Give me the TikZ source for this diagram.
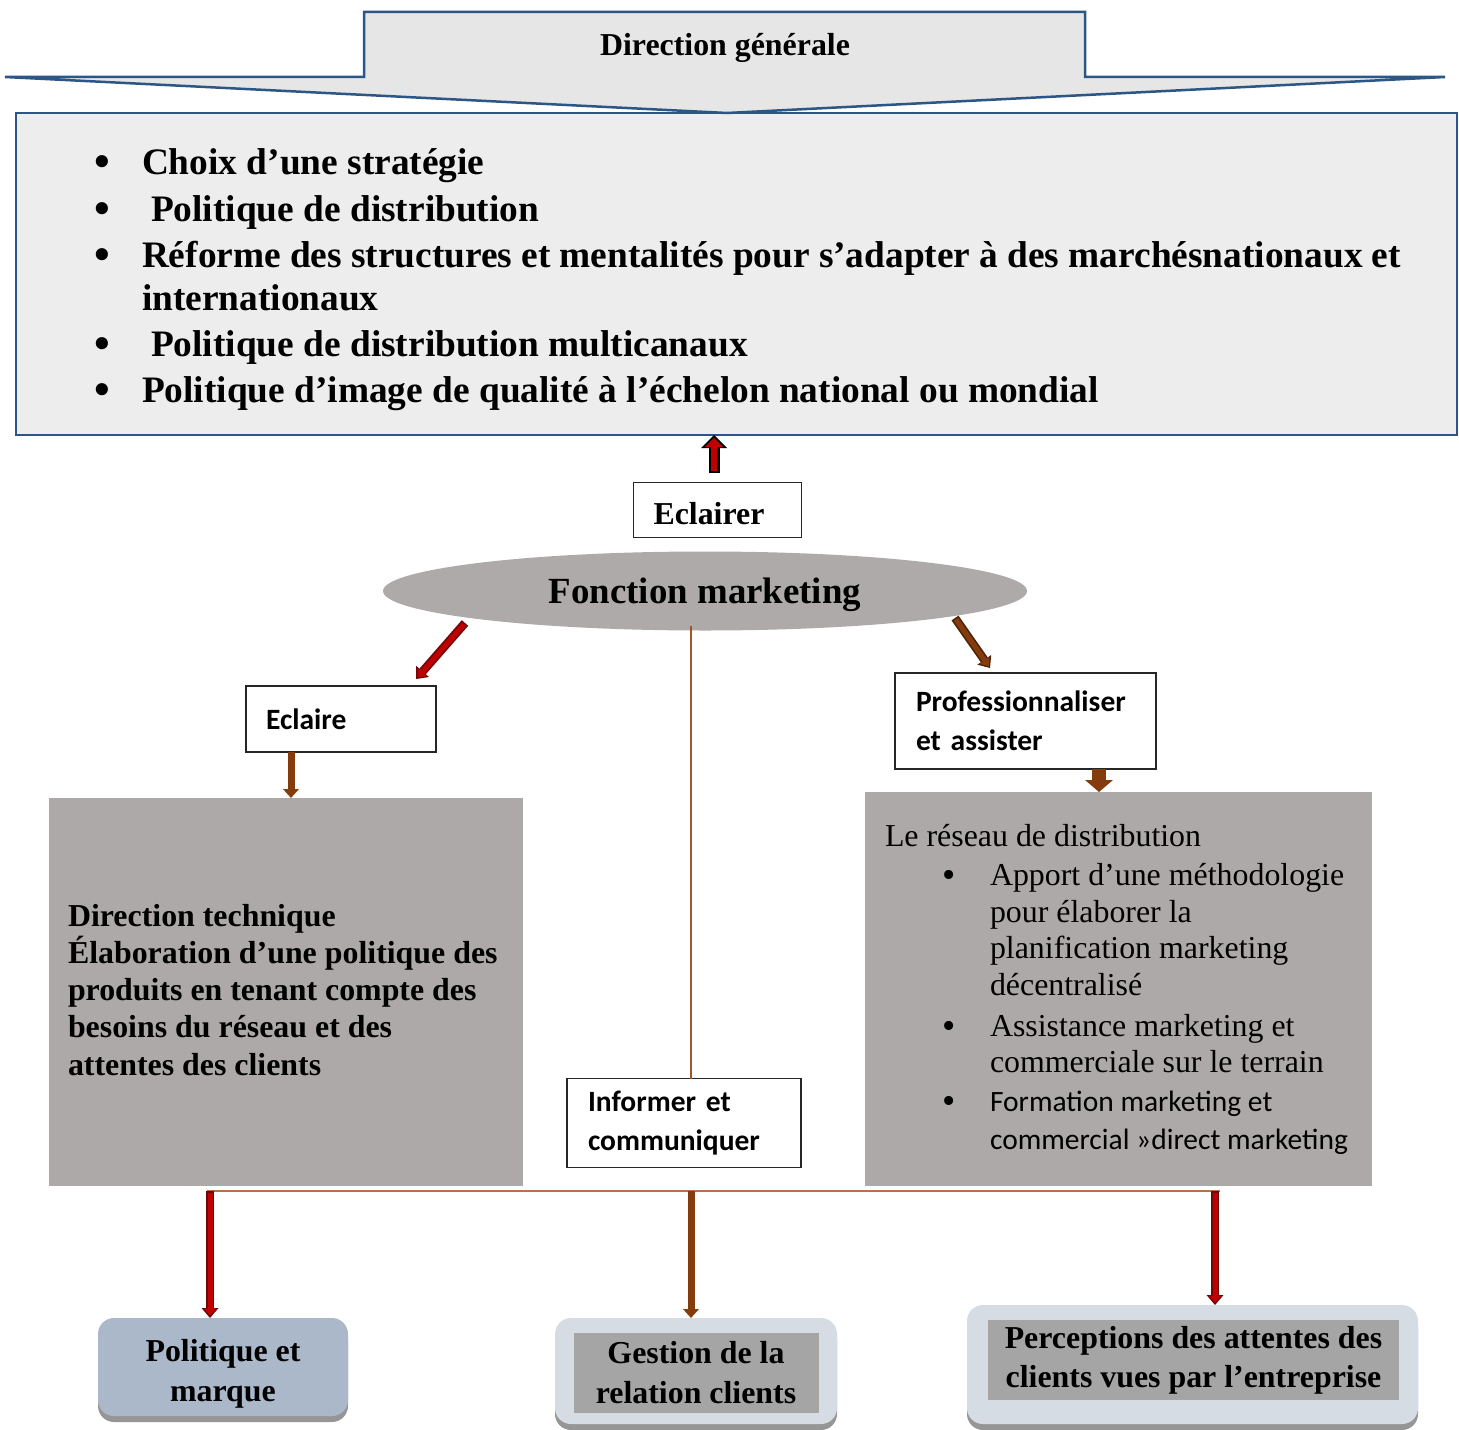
\documentclass[tikz,border=0pt]{standalone}
\usepackage{fontspec}
\setmainfont{Liberation Serif}
\newfontfamily\calibri{Carlito}
\usetikzlibrary{arrows.meta,shapes.geometric}

\definecolor{frameblue}{RGB}{44,86,134}
\definecolor{bannerfill}{RGB}{230,230,230}
\definecolor{panelfill}{RGB}{237,237,237}
\definecolor{boxgray}{RGB}{173,169,168}
\definecolor{ellipsefill}{RGB}{173,170,169}
\definecolor{arrowred}{RGB}{192,0,0}
\definecolor{arrowdark}{RGB}{110,8,8}
\definecolor{arrowbrown}{RGB}{132,60,12}
\definecolor{browndark}{RGB}{80,36,10}
\definecolor{stembrown}{RGB}{164,84,40}
\definecolor{busbrown}{RGB}{184,112,78}
\definecolor{slateblue}{RGB}{171,184,202}
\definecolor{paleblue}{RGB}{214,220,228}
\definecolor{midgray}{RGB}{165,165,165}
\definecolor{shadowgray}{RGB}{150,150,150}

\begin{document}
\begin{tikzpicture}[x=1bp,y=-1bp,
  every node/.style={inner sep=0pt, outer sep=0pt},
  frameline/.style={draw=frameblue, line width=2.5bp, line join=miter},
  bigline/.style={anchor=base west, font=\bfseries\fontsize{37.5}{44}\selectfont},
  bigbullet/.style={anchor=base, font=\bfseries\fontsize{45}{45}\selectfont},
  boldline/.style={anchor=base west, font=\bfseries\fontsize{32}{37}\selectfont},
  romanline/.style={anchor=base west, font=\fontsize{32}{37}\selectfont},
  smallbullet/.style={anchor=base, font=\fontsize{38}{38}\selectfont},
  sansline/.style={anchor=base west, font=\calibri\fontsize{29.6}{38}\selectfont},
  labelbox/.style={draw=black!85, line width=1.3bp, fill=white, align=left,
    font=\calibri\bfseries\fontsize{29.6}{39}\selectfont},
  graybox/.style={fill=boxgray, anchor=north west},
  shadowed/.style={preaction={fill=shadowgray, transform canvas={yshift=-6bp}}},
  bottomtext/.style={align=center, font=\bfseries\fontsize{32}{40}\selectfont},
  % outlined block arrows: dark body first, lighter core on top
  upouter/.style={line width=11bp, color=black, -{Triangle[length=13bp,width=26bp,line width=0pt]}},
  upinner/.style={line width=6.5bp, color=arrowred, shorten <=2bp, shorten >=2.8bp,
    -{Triangle[length=9bp,width=18bp,line width=0pt]}},
  redouter/.style={line width=8.5bp, color=arrowdark, -{Triangle[length=10bp,width=17bp,line width=0pt]}},
  redinner/.style={line width=5bp, color=arrowred, shorten <=1.7bp, shorten >=2.3bp,
    -{Triangle[length=7bp,width=12bp,line width=0pt]}},
  brownouter/.style={line width=8.5bp, color=browndark, -{Triangle[length=10bp,width=17bp,line width=0pt]}},
  browninner/.style={line width=5bp, color=arrowbrown, shorten <=1.7bp, shorten >=2.3bp,
    -{Triangle[length=7bp,width=12bp,line width=0pt]}},
  brownarrow/.style={line width=7bp, color=arrowbrown, -{Triangle[length=9bp,width=16bp,line width=0pt]}},
  widebrown/.style={line width=14bp, color=arrowbrown, -{Triangle[length=12bp,width=28bp,line width=0pt]}},
  stemline/.style={draw=stembrown, line width=2.2bp},
  busline/.style={draw=busbrown, line width=2bp}
]
\useasboundingbox (0,0) rectangle (1459,1430);

% strategy panel
\node[frameline, fill=panelfill, minimum width=1441bp, minimum height=322bp, anchor=north west] (panel) at (16,113) {};

% banner arrow on top of the panel
\draw[frameline, fill=bannerfill] (364,12) -- (1085,12) -- (1085,77) -- (1445,77) -- (727,113) -- (5,77) -- (364,77) -- cycle;
\node[font=\bfseries\fontsize{32}{36}\selectfont] (dg) at (725,48) {Direction générale};

% panel list
\node[bigbullet] (pb1) at (102,177) {\textbullet};
\node[bigbullet] (pb2) at (102,223) {\textbullet};
\node[bigbullet] (pb3) at (102,269) {\textbullet};
\node[bigbullet] (pb4) at (102,358) {\textbullet};
\node[bigbullet] (pb5) at (102,404) {\textbullet};
\node[bigline] (p1) at (142,175) {Choix d’une stratégie};
\node[bigline] (p2) at (151,221) {Politique de distribution};
\node[bigline] (p3) at (142,267) {\makebox[1259bp][s]{Réforme des structures et mentalités pour s’adapter à des marchésnationaux et}};
\node[bigline] (p4) at (142,310) {internationaux};
\node[bigline] (p5) at (151,356) {Politique de distribution multicanaux};
\node[bigline] (p6) at (142,402) {Politique d’image de qualité à l’échelon national ou mondial};

% Eclairer and its upward arrow
\node[draw=black!85, line width=1.3bp, fill=white, minimum width=168bp, minimum height=55bp,
  text width=128bp, inner xsep=20bp, align=left, text height=28bp, text depth=0pt,
  font=\bfseries\fontsize{32}{36}\selectfont] (ecl) at (717.5,510) {Eclairer};
\coordinate (upfoot) at (714,473);
\draw[upouter] (upfoot) -- (upfoot |- panel.south);
\draw[upinner] (upfoot) -- (upfoot |- panel.south);

% marketing function
\node[ellipse, fill=ellipsefill, minimum width=644bp, minimum height=79bp, text depth=0pt,
  font=\bfseries\fontsize{37}{44}\selectfont] (fm) at (705,591) {Fonction marketing};

% diagonal arrows
\coordinate (dl0) at (465,623); \coordinate (dl1) at (416,679);
\draw[redouter] (dl0) -- (dl1);
\draw[redinner] (dl0) -- (dl1);
\coordinate (dr0) at (955,618); \coordinate (dr1) at (990,668);
\draw[brownouter] (dr0) -- (dr1);
\draw[browninner] (dr0) -- (dr1);

% label boxes
\node[labelbox, minimum width=190bp, minimum height=66bp, text width=150bp, inner xsep=20bp] (ecl2) at (341,719) {Eclaire};
\node[labelbox, minimum width=261bp, minimum height=96bp, text width=219bp, inner xsep=21bp] (prof) at (1025.5,721) {Professionnaliser\\et assister};

% grey content boxes
\node[graybox, minimum width=474bp, minimum height=388bp] (lbox) at (49,798) {};
\node[graybox, minimum width=507bp, minimum height=394bp] (rbox) at (865,792) {};

\draw[brownarrow] ([xshift=-50bp]ecl2.south) -- ([xshift=-50bp]ecl2.south |- lbox.north);
\draw[widebrown] ([xshift=73.5bp]prof.south) -- ([xshift=73.5bp]prof.south |- rbox.north);

\node[boldline] (lt1) at (68,926.5) {Direction technique};
\node[boldline] (lt2) at (68,963.5) {Élaboration d’une politique des};
\node[boldline] (lt3) at (68,1000.5) {produits en tenant compte des};
\node[boldline] (lt4) at (68,1037.5) {besoins du réseau et des};
\node[boldline] (lt5) at (68,1075.5) {attentes des clients};

\node[romanline] (rt0) at (885,846.5) {Le réseau de distribution};
\node[smallbullet] (rb1) at (949,887) {\textbullet};
\node[smallbullet] (rb2) at (949,1038) {\textbullet};
\node[smallbullet] (rb3) at (949,1113) {\textbullet};
\node[romanline] (rt1) at (990,885.5) {Apport d’une méthodologie};
\node[romanline] (rt2) at (990,922.5) {pour élaborer la};
\node[romanline] (rt3) at (990,958.5) {planification marketing};
\node[romanline] (rt4) at (990,995.5) {décentralisé};
\node[romanline] (rt5) at (990,1036.5) {Assistance marketing et};
\node[romanline] (rt6) at (990,1072.5) {commerciale sur le terrain};
\node[sansline] (rt7) at (990,1111.5) {Formation marketing et};
\node[sansline] (rt8) at (990,1149.5) {commercial »direct marketing};

% informing branch
\node[labelbox, minimum width=234bp, minimum height=89bp, text width=192bp, inner xsep=21bp] (inf) at (684,1123) {Informer et\\communiquer};
\coordinate (stem) at (691,626);
\draw[stemline] (stem) -- (stem |- inf.north);

% outcome boxes
\node[rounded corners=16bp, fill=slateblue, shadowed, minimum width=250bp, minimum height=98bp] (pm) at (223,1367) {};
\node[bottomtext] (pmt) at (223,1374) {Politique et\\marque};
\node[rounded corners=16bp, fill=paleblue, shadowed, minimum width=282bp, minimum height=106bp] (grc) at (696,1371) {};
\node[fill=midgray, minimum width=245bp, minimum height=80bp, bottomtext] (grct) at (696,1373) {Gestion de la\\relation clients};
\node[rounded corners=16bp, fill=paleblue, shadowed, minimum width=451bp, minimum height=119bp] (pce) at (1192.5,1364.5) {};
\node[fill=midgray, minimum width=411bp, minimum height=80bp, bottomtext] (pcet) at (1193.5,1360) {\raisebox{-2bp}{\parbox{411bp}{\centering Perceptions des attentes des\\[-1bp]clients vues par l’entreprise}}};

% distribution bus and drops
\coordinate (busL) at (207,1191); \coordinate (busR) at (1220,1191);
\draw[busline] (busL) -- (busR);
\coordinate (drop1) at (210,1191);
\coordinate (drop2) at (691,1191);
\coordinate (drop3) at (1215,1191);
\draw[redouter] (drop1) -- (drop1 |- pm.north);
\draw[redinner] (drop1) -- (drop1 |- pm.north);
\draw[brownarrow] (drop2) -- (drop2 |- grc.north);
\draw[redouter] (drop3) -- (drop3 |- pce.north);
\draw[redinner] (drop3) -- (drop3 |- pce.north);
\end{tikzpicture}
\end{document}
